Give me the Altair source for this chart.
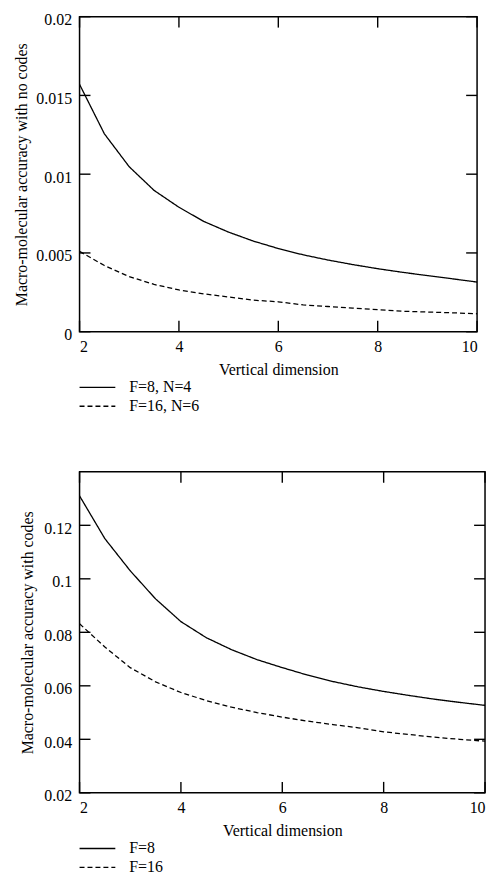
import altair as alt
import pandas as pd

# ---- data ----
x_vals = [2, 2.5, 3, 3.5, 4, 4.5, 5, 5.5, 6, 6.5, 7, 7.5, 8, 8.5, 9, 9.5, 10]

top_labels = ["F=8, N=4", "F=16, N=6"]
top_solid = [0.0157, 0.01256, 0.01047, 0.00897, 0.00790, 0.00700, 0.00632, 0.00575,
             0.00528, 0.00488, 0.00455, 0.00426, 0.00400, 0.00377, 0.00356, 0.00336, 0.00315]
top_dashed = [0.0051, 0.0042, 0.0035, 0.0030, 0.00265, 0.0024, 0.0022, 0.0020,
              0.0019, 0.0017, 0.0016, 0.0015, 0.0014, 0.0013, 0.00125, 0.0012, 0.00114]

bottom_labels = ["F=8", "F=16"]
bottom_solid = [0.131, 0.115, 0.103, 0.0925, 0.084, 0.078, 0.0735, 0.0698,
                0.0668, 0.0640, 0.0616, 0.0596, 0.0579, 0.0564, 0.0550, 0.0538, 0.0527]
bottom_dashed = [0.0832, 0.0745, 0.0668, 0.0615, 0.0575, 0.0545, 0.052, 0.050,
                 0.0483, 0.0468, 0.0455, 0.0443, 0.0428, 0.0418, 0.0408, 0.0400, 0.0393]

x_ticks = [2, 4, 6, 8, 10]
top_y_ticks = [0, 0.005, 0.01, 0.015, 0.02]
bottom_y_ticks = [0.02, 0.04, 0.06, 0.08, 0.1, 0.12]

FONT = "Liberation Serif"
TICK = 11


def make_df(labels, solid, dashed, y_domain, y_ticks):
    rows = []
    for x, y in zip(x_vals, solid):
        rows.append({"x": x, "y": y, "series": labels[0], "kind": "line"})
    for x, y in zip(x_vals, dashed):
        rows.append({"x": x, "y": y, "series": labels[1], "kind": "line"})
    for t in x_ticks:
        rows.append({"x": t, "y": y_domain[0], "series": labels[0], "kind": "tb"})
        rows.append({"x": t, "y": y_domain[1], "series": labels[0], "kind": "tt"})
    for t in y_ticks:
        rows.append({"x": x_ticks[0], "y": t, "series": labels[0], "kind": "tl"})
        rows.append({"x": x_ticks[-1], "y": t, "series": labels[0], "kind": "tr"})
    return pd.DataFrame(rows)


def panel(df, labels, y_domain, y_ticks, y_title, w, h, title_pad):
    xs = alt.Scale(domain=[2, 10], nice=False, zero=False)
    ys = alt.Scale(domain=y_domain, nice=False, zero=False)
    x_axis = alt.Axis(
        orient="bottom", values=x_ticks, format="d", ticks=False, domain=False,
        grid=False, title="Vertical dimension", labelPadding=7, titlePadding=7,
        labelBaseline="top")
    y_axis = alt.Axis(
        orient="left", values=y_ticks, format="~g", ticks=False, domain=False,
        grid=False, title=y_title, labelPadding=8, titlePadding=title_pad,
        labelOffset=3)
    base = alt.Chart(df)

    main = base.transform_filter(alt.datum.kind == "line").mark_line(
        color="black", strokeWidth=1.3
    ).encode(
        x=alt.X("x:Q", scale=xs, axis=x_axis),
        y=alt.Y("y:Q", scale=ys, axis=y_axis),
        strokeDash=alt.StrokeDash(
            "series:N",
            scale=alt.Scale(domain=labels, range=[[1, 0], [5, 3]]),
            legend=alt.Legend(
                orient="none", legendX=-1, legendY=h + 48, title=None,
                direction="vertical", symbolType="stroke", symbolSize=1296,
                symbolStrokeWidth=1.4, symbolStrokeColor="black",
                labelFont=FONT, labelFontSize=16, labelColor="black",
                labelOffset=13, rowPadding=3, padding=0, clipHeight=16)),
    )

    def vticks(kind, off):
        return base.transform_filter(alt.datum.kind == kind).mark_rule(
            color="black", strokeWidth=1.4, y2Offset=off
        ).encode(
            x=alt.X("x:Q", scale=xs),
            y=alt.Y("y:Q", scale=ys),
            y2="y:Q",
        )

    def hticks(kind, off):
        return base.transform_filter(alt.datum.kind == kind).mark_rule(
            color="black", strokeWidth=1.4, x2Offset=off
        ).encode(
            x=alt.X("x:Q", scale=xs),
            x2="x:Q",
            y=alt.Y("y:Q", scale=ys),
        )

    return alt.layer(
        main, vticks("tb", -TICK), vticks("tt", TICK),
        hticks("tl", TICK), hticks("tr", -TICK)
    ).properties(width=w, height=h)


top = panel(make_df(top_labels, top_solid, top_dashed, [0, 0.02], top_y_ticks),
            top_labels, [0, 0.02], top_y_ticks,
            "Macro-molecular accuracy with no codes", 400, 317, 6)
bottom = panel(make_df(bottom_labels, bottom_solid, bottom_dashed, [0.02, 0.14], bottom_y_ticks),
               bottom_labels, [0.02, 0.14], bottom_y_ticks,
               "Macro-molecular accuracy with codes", 408, 323, 8)

chart = (
    alt.vconcat(top, bottom, spacing=55)
    .resolve_scale(x="independent", y="independent", strokeDash="independent")
    .resolve_legend(strokeDash="independent")
    .properties(padding={"left": 5, "top": 0, "right": 0, "bottom": 0})
    .configure_view(stroke="black", strokeWidth=1.5)
    .configure_axis(labelFont=FONT, labelFontSize=16, labelColor="black",
                    titleFont=FONT, titleFontSize=16, titleColor="black",
                    titleFontWeight="normal")
)

chart.save("out.html", embed_options={"renderer": "svg", "actions": False})
